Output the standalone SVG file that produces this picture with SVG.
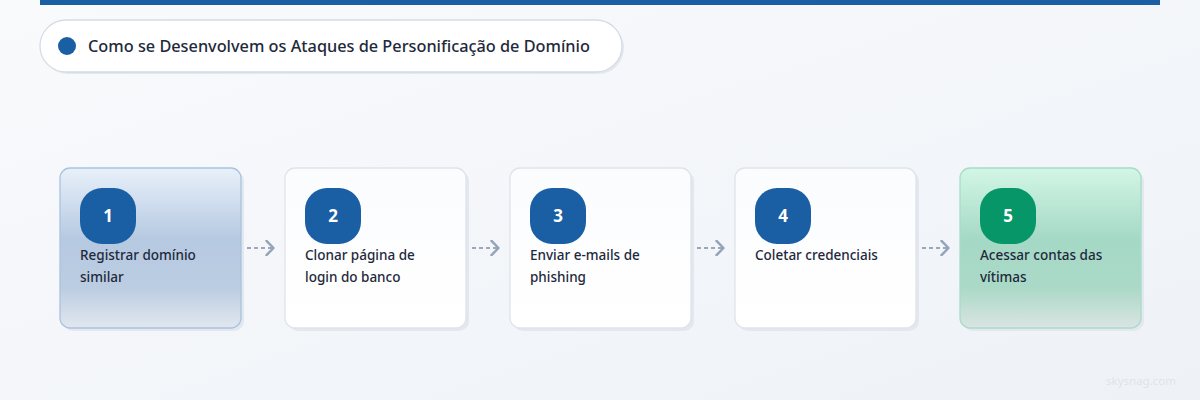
<svg xmlns="http://www.w3.org/2000/svg" width="1200" height="400" viewBox="0 0 1200 400">
<defs>
<linearGradient id="bg" x1="0" y1="0" x2="1" y2="1">
<stop offset="0" stop-color="#f9fafc"/>
<stop offset="1" stop-color="#eef2f7"/>
</linearGradient>
<linearGradient id="g1" x1="0" y1="0" x2="0" y2="1">
<stop offset="0" stop-color="#e8f0fa"/>
<stop offset="0.45" stop-color="#b5c9e1"/>
<stop offset="0.75" stop-color="#bccde2"/>
<stop offset="1" stop-color="#e1e7ee"/>
</linearGradient>
<linearGradient id="g5" x1="0" y1="0" x2="0" y2="1">
<stop offset="0" stop-color="#d3f6e6"/>
<stop offset="0.45" stop-color="#a4d9c5"/>
<stop offset="0.75" stop-color="#abd9c8"/>
<stop offset="1" stop-color="#dae4e2"/>
</linearGradient>
<linearGradient id="gw" x1="0" y1="0" x2="0" y2="1">
<stop offset="0" stop-color="#fbfcfe"/>
<stop offset="1" stop-color="#ffffff"/>
</linearGradient>
<marker id="chev" viewBox="0 0 10 16" refX="9" refY="8" markerWidth="10" markerHeight="16" markerUnits="userSpaceOnUse" orient="auto">
<path d="M1.5 0.8 L8.5 8 L1.5 15.2" fill="none" stroke="#94a3b8" stroke-width="2.4" stroke-linecap="round" stroke-linejoin="round"/>
</marker>
<style>
.shadow{fill:#e3e7ee}
.card{stroke-width:1.3}
.cw{fill:url(#gw);stroke:#dfe4eb}
.badge{fill:#1a5ea4}
.num{font-family:"Noto Sans","Open Sans",sans-serif;font-size:17px;font-weight:700;fill:#ffffff;text-anchor:middle}
.lbl{font-family:"Noto Sans","Open Sans",sans-serif;font-size:13.5px;font-weight:500;fill:#1e293b}
.conn{fill:none;stroke:#9aa8bd;stroke-width:2;stroke-dasharray:4 3}
</style>
</defs>
<rect width="1200" height="400" fill="url(#bg)"/>
<rect x="40" y="0" width="1120" height="5" fill="#1a5ea4"/>
<g id="title">
<rect x="42" y="22" width="582" height="52" rx="26" fill="#e3e7ee"/>
<rect x="40" y="20" width="582" height="52" rx="26" fill="#ffffff" stroke="#d5dce6" stroke-width="1.3"/>
<circle cx="67" cy="46" r="9" fill="#1a5ea4"/>
<text x="88" y="52" font-family="'Noto Sans','Open Sans',sans-serif" font-size="16.3" font-weight="500" fill="#1e293b">Como se Desenvolvem os Ataques de Personificação de Domínio</text>
</g>
<g id="connectors">
<path class="conn" d="M247 248 H274" marker-end="url(#chev)"/>
<path class="conn" d="M472 248 H499" marker-end="url(#chev)"/>
<path class="conn" d="M697 248 H724" marker-end="url(#chev)"/>
<path class="conn" d="M922 248 H949" marker-end="url(#chev)"/>
</g>
<g id="step1">
<rect class="shadow" x="63" y="171" width="181" height="160" rx="10"/>
<rect class="card" x="60" y="168" width="181" height="160" rx="10" fill="url(#g1)" stroke="#a9c3e1"/>
<rect class="badge" x="80" y="188" width="56" height="56" rx="22"/>
<text class="num" x="108" y="222">1</text>
<text class="lbl" x="80" y="260">Registrar domínio</text>
<text class="lbl" x="80" y="282">similar</text>
</g>
<g id="step2">
<rect class="shadow" x="288" y="171" width="181" height="160" rx="10"/>
<rect class="card cw" x="285" y="168" width="181" height="160" rx="10"/>
<rect class="badge" x="305" y="188" width="56" height="56" rx="22"/>
<text class="num" x="333" y="222">2</text>
<text class="lbl" x="305" y="260">Clonar página de</text>
<text class="lbl" x="305" y="282">login do banco</text>
</g>
<g id="step3">
<rect class="shadow" x="513" y="171" width="181" height="160" rx="10"/>
<rect class="card cw" x="510" y="168" width="181" height="160" rx="10"/>
<rect class="badge" x="530" y="188" width="56" height="56" rx="22"/>
<text class="num" x="558" y="222">3</text>
<text class="lbl" x="530" y="260">Enviar e-mails de</text>
<text class="lbl" x="530" y="282">phishing</text>
</g>
<g id="step4">
<rect class="shadow" x="738" y="171" width="181" height="160" rx="10"/>
<rect class="card cw" x="735" y="168" width="181" height="160" rx="10"/>
<rect class="badge" x="755" y="188" width="56" height="56" rx="22"/>
<text class="num" x="783" y="222">4</text>
<text class="lbl" x="755" y="260">Coletar credenciais</text>
</g>
<g id="step5">
<rect class="shadow" x="963" y="171" width="181" height="160" rx="10"/>
<rect class="card" x="960" y="168" width="181" height="160" rx="10" fill="url(#g5)" stroke="#a8dcc7"/>
<rect x="980" y="188" width="56" height="56" rx="22" fill="#069668"/>
<text class="num" x="1008" y="222">5</text>
<text class="lbl" x="980" y="260">Acessar contas das</text>
<text class="lbl" x="980" y="282">vítimas</text>
</g>
<text x="1176" y="385" text-anchor="end" font-family="'Noto Sans','Open Sans',sans-serif" font-size="11.5" fill="#dfe3ea">skysnag.com</text>
</svg>
